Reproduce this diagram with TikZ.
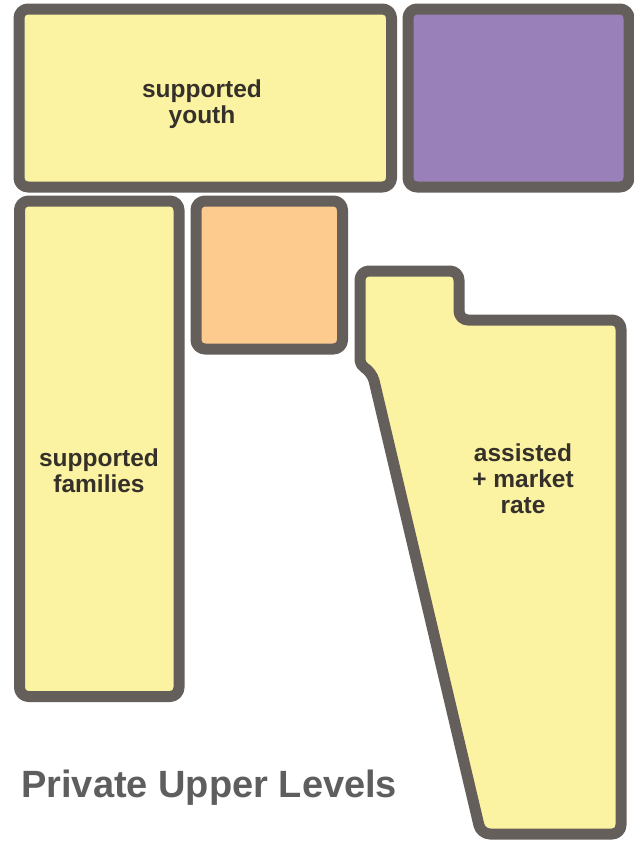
\documentclass[tikz,border=0pt]{standalone}
\usepackage{fontspec}
\setmainfont{Liberation Sans}
\definecolor{edge}{HTML}{655F5C}
\definecolor{yel}{HTML}{FCF3A2}
\definecolor{pur}{HTML}{9A80B8}
\definecolor{org}{HTML}{FDCB8E}
\definecolor{lbl}{HTML}{35302A}
\definecolor{ttl}{HTML}{5E5E5E}
\begin{document}
\begin{tikzpicture}[x=1pt,y=-1pt,
  room/.style={draw=edge,line width=11pt,rounded corners=9pt,line join=round},
  lab/.style={font=\fontsize{24.5}{26}\selectfont\bfseries, text=lbl, align=center, inner sep=0pt}]
\useasboundingbox (0,0) rectangle (634,841);
\fill[white] (0,0) rectangle (634,841);
\draw[room,fill=yel] (19,9) rectangle (391.5,187);
\draw[room,fill=pur] (408,9) rectangle (629,187);
\draw[room,fill=yel] (19.5,201) rectangle (179,696.5);
\draw[room,fill=org] (196,201) rectangle (342.5,349);
\draw[room,fill=yel] (360,320) -- (360,271) -- (459,271) -- (459,320) -- (621,320) -- (621,834) -- (481,834) -- (372,372) [rounded corners=5pt] -- (360,365) -- cycle;
\node[lab] (youth) at (202,104) {supported\\youth};
\node[lab] (families) at (99,471) {supported\\families};
\node[lab] (assisted) at (523,479) {assisted\\+ market\\rate};
\node[anchor=base west, inner sep=0pt, font=\fontsize{38}{40}\selectfont\bfseries, text=ttl] (title) at (21,797) {Private Upper Levels};
\end{tikzpicture}
\end{document}
